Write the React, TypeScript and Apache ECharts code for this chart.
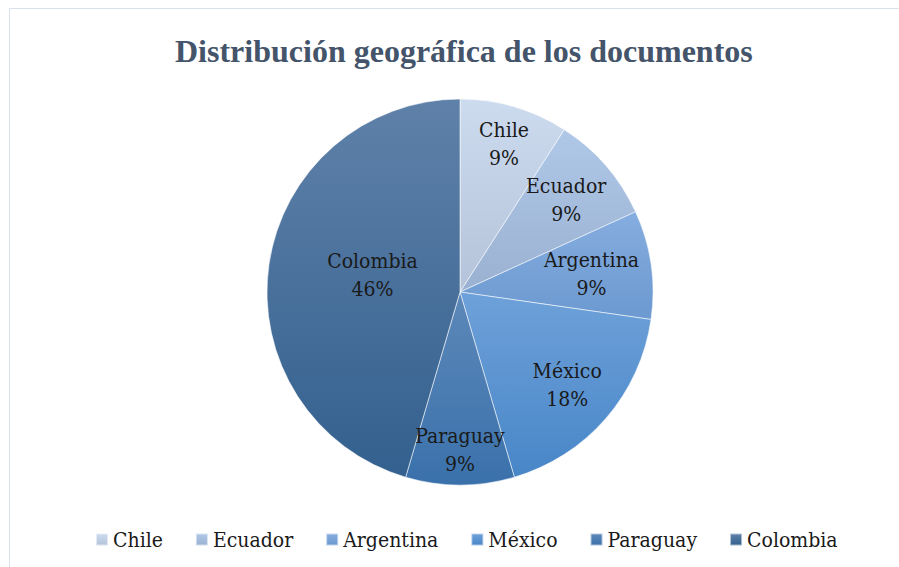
import React, { useEffect, useRef } from "react";
import * as echarts from "echarts";

const TITLE = "Distribución geográfica de los documentos";
const categories = ["Chile", "Ecuador", "Argentina", "México", "Paraguay", "Colombia"];
const values = [9.1, 9.1, 9.1, 18.2, 9.1, 45.5];
const topColors = ["#cddbef", "#b0c8e8", "#86addf", "#6ea1d9", "#5d88b9", "#5f81a9"];
const bottomColors = ["#b4c3d9", "#9ab1d2", "#6b99d0", "#4886c8", "#3a71ab", "#33608e"];
const labelOffsets: [number, number][] = [
  [16, -53],
  [31, -27],
  [33, -4],
  [32, 28],
  [0, 58],
  [11, -3],
];

const REG = "'DejaVu Serif Condensed', 'DejaVu Serif'";

export default function App() {
  const ref = useRef<HTMLDivElement>(null);
  useEffect(() => {
    if (!ref.current) return;
    const chart = echarts.init(ref.current, undefined, { renderer: "svg" });
    const data = categories.map((name, i) => ({
      name,
      value: values[i],
      itemStyle: {
        color: new echarts.graphic.LinearGradient(0, 0, 0, 1, [
          { offset: 0, color: topColors[i] },
          { offset: 1, color: bottomColors[i] },
        ]),
      },
      label: { offset: labelOffsets[i] },
    }));
    chart.setOption({
      animation: false,
      backgroundColor: "#ffffff",
      title: {
        text: TITLE,
        left: 170,
        top: 30,
        textStyle: {
          fontFamily: "Liberation Serif",
          fontWeight: "bold",
          fontSize: 32,
          color: "#44546a",
        },
      },
      legend: {
        data: categories,
        orient: "horizontal",
        left: 90,
        top: 524,
        itemWidth: 12,
        itemHeight: 12,
        itemGap: 32,
        icon: "rect",
        textStyle: {
          fontFamily: REG,
          fontWeight: "normal",
          fontSize: 21,
          color: "#1a1a1a",
        },
      },
      graphic: [
        { type: "line", shape: { x1: 9.5, y1: 8.5, x2: 899, y2: 8.5 }, style: { stroke: "#d9e1ec", lineWidth: 1 } },
        { type: "line", shape: { x1: 9.5, y1: 8.5, x2: 9.5, y2: 567 }, style: { stroke: "#d9e1ec", lineWidth: 1 } },
      ],
      series: [
        {
          type: "pie",
          center: [460, 292],
          radius: [0, 193],
          startAngle: 90,
          clockwise: true,
          data,
          itemStyle: { borderColor: "rgba(255,255,255,0.55)", borderWidth: 1 },
          label: {
            show: true,
            position: "inside",
            formatter: (p: any) => `${p.name}\n${Math.round(p.value)}%`,
            fontFamily: REG,
            fontWeight: "normal",
            fontSize: 21,
            lineHeight: 28,
            color: "#1a1a1a",
            align: "center",
          },
          labelLine: { show: false },
          emphasis: { disabled: true },
        },
      ],
    });
    return () => chart.dispose();
  }, []);
  return (
    <div
      ref={ref}
      style={{ position: "absolute", left: 0, top: 0, width: 899, height: 567 }}
    />
  );
}
